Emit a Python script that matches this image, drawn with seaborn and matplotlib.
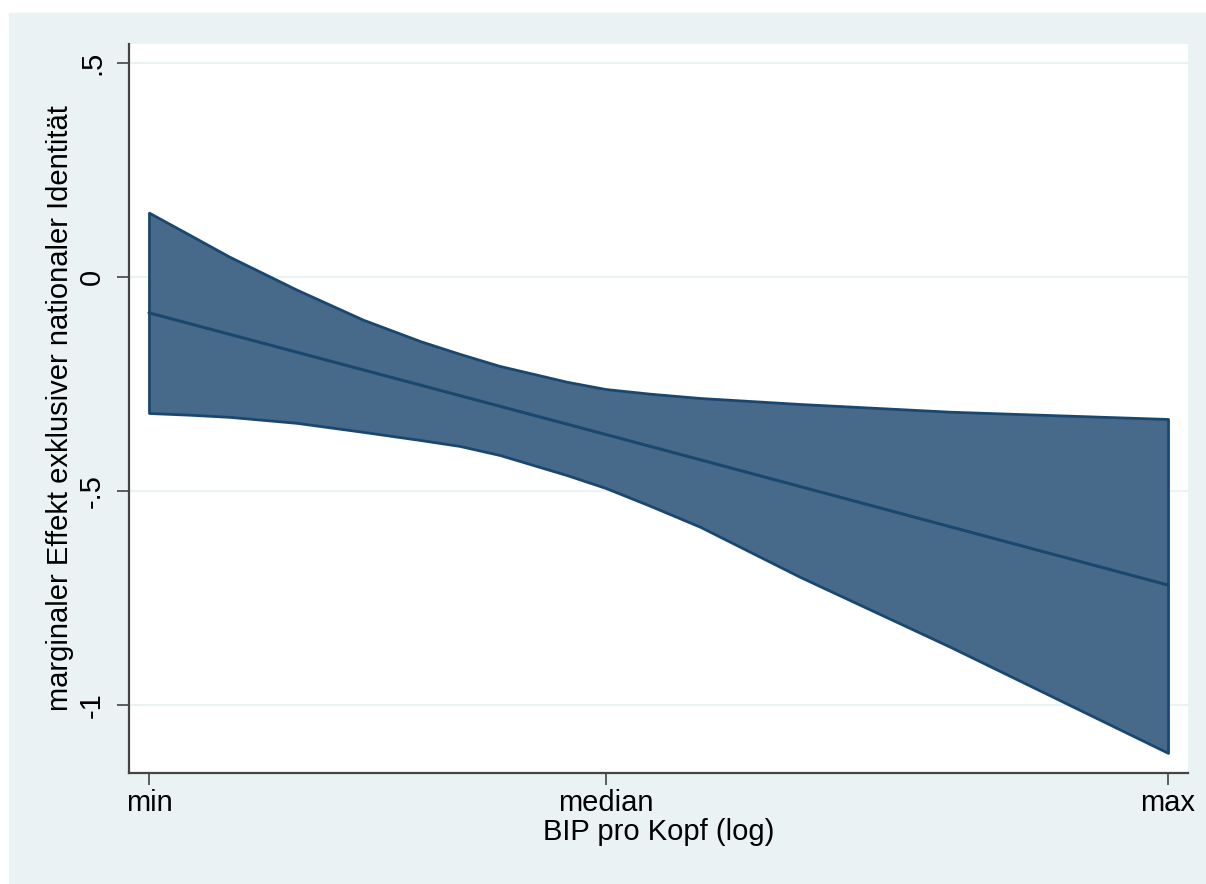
import numpy as np
import pandas as pd
import matplotlib
matplotlib.use("Agg")
import matplotlib.pyplot as plt
import seaborn as sns

# x position on the GDP scale (0 = min, 1 = max)
x_band = [0.0, 0.040, 0.079, 0.145, 0.210, 0.266, 0.305, 0.344, 0.410, 0.448,
          0.492, 0.541, 0.639, 0.786, 1.0]
upper = [0.150, 0.098, 0.047, -0.030, -0.100, -0.150, -0.180, -0.208, -0.245, -0.262,
         -0.273, -0.283, -0.297, -0.315, -0.332]
lower = [-0.318, -0.322, -0.327, -0.341, -0.362, -0.381, -0.395, -0.416, -0.463, -0.493,
         -0.535, -0.584, -0.701, -0.864, -1.112]

x_line = [0.0, 0.448, 1.0]
effect = [-0.084, -0.368, -0.720]

x_ticks = [0.0, 0.448, 1.0]
x_ticklabels = ["min", "median", "max"]
y_ticks = [0.5, 0.0, -0.5, -1.0]
y_ticklabels = [".5", "0", "-.5", "-1"]

BG = "#EAF2F3"
FILL = "#476A8A"
EDGE = "#1A476F"

sns.set_theme(style="white")
plt.rcParams["font.family"] = ["Liberation Sans", "DejaVu Sans"]
plt.rcParams["text.color"] = "black"
plt.rcParams["axes.labelcolor"] = "black"
plt.rcParams["xtick.color"] = "black"
plt.rcParams["ytick.color"] = "black"

fig = plt.figure(figsize=(12.06, 8.84), dpi=100, facecolor="white")
fig.patches.append(plt.Rectangle((9 / 1206, 0), 1, (884 - 13) / 884,
                                 transform=fig.transFigure, color=BG, zorder=-5))
ax = fig.add_axes([129 / 1206, 1 - 773 / 884, (1188 - 129) / 1206, (773 - 44) / 884])
ax.set_zorder(5)
ax.set_facecolor("white")

band = pd.DataFrame({"x": x_band, "upper": upper, "lower": lower})
line = pd.DataFrame({"x": x_line, "effect": effect})

# light Stata-style grid
for y in y_ticks:
    ax.axhline(y, color=BG, lw=1.5, zorder=1)

ax.fill_between(band["x"], band["lower"], band["upper"], color=FILL,
                edgecolor=EDGE, linewidth=2, zorder=2)
sns.lineplot(data=line, x="x", y="effect", color=EDGE, lw=2.2, ax=ax, zorder=3)

ax.set_xlim(-0.0196, 1.0196)
ax.set_ylim(-1.159, 0.544)
ax.set_xticks(x_ticks)
ax.set_xticklabels(x_ticklabels, fontsize=21)
ax.set_yticks(y_ticks)
ax.set_yticklabels(y_ticklabels, fontsize=21, rotation=90, va="center")

ax.tick_params(axis="both", which="major", length=8.6, width=1.2, color="#444444",
               left=True, bottom=True)
ax.tick_params(axis="x", pad=3)
ax.tick_params(axis="y", pad=8)

for side in ["top", "right"]:
    ax.spines[side].set_visible(False)
for side in ["left", "bottom"]:
    ax.spines[side].set_color("#444444")
    ax.spines[side].set_linewidth(1.6)

ax.set_xlabel("BIP pro Kopf (log)", fontsize=21, labelpad=1)
ax.set_ylabel("marginaler Effekt exklusiver nationaler Identität", fontsize=21, labelpad=3)

fig.savefig("out.png", dpi=100, facecolor=fig.get_facecolor())
